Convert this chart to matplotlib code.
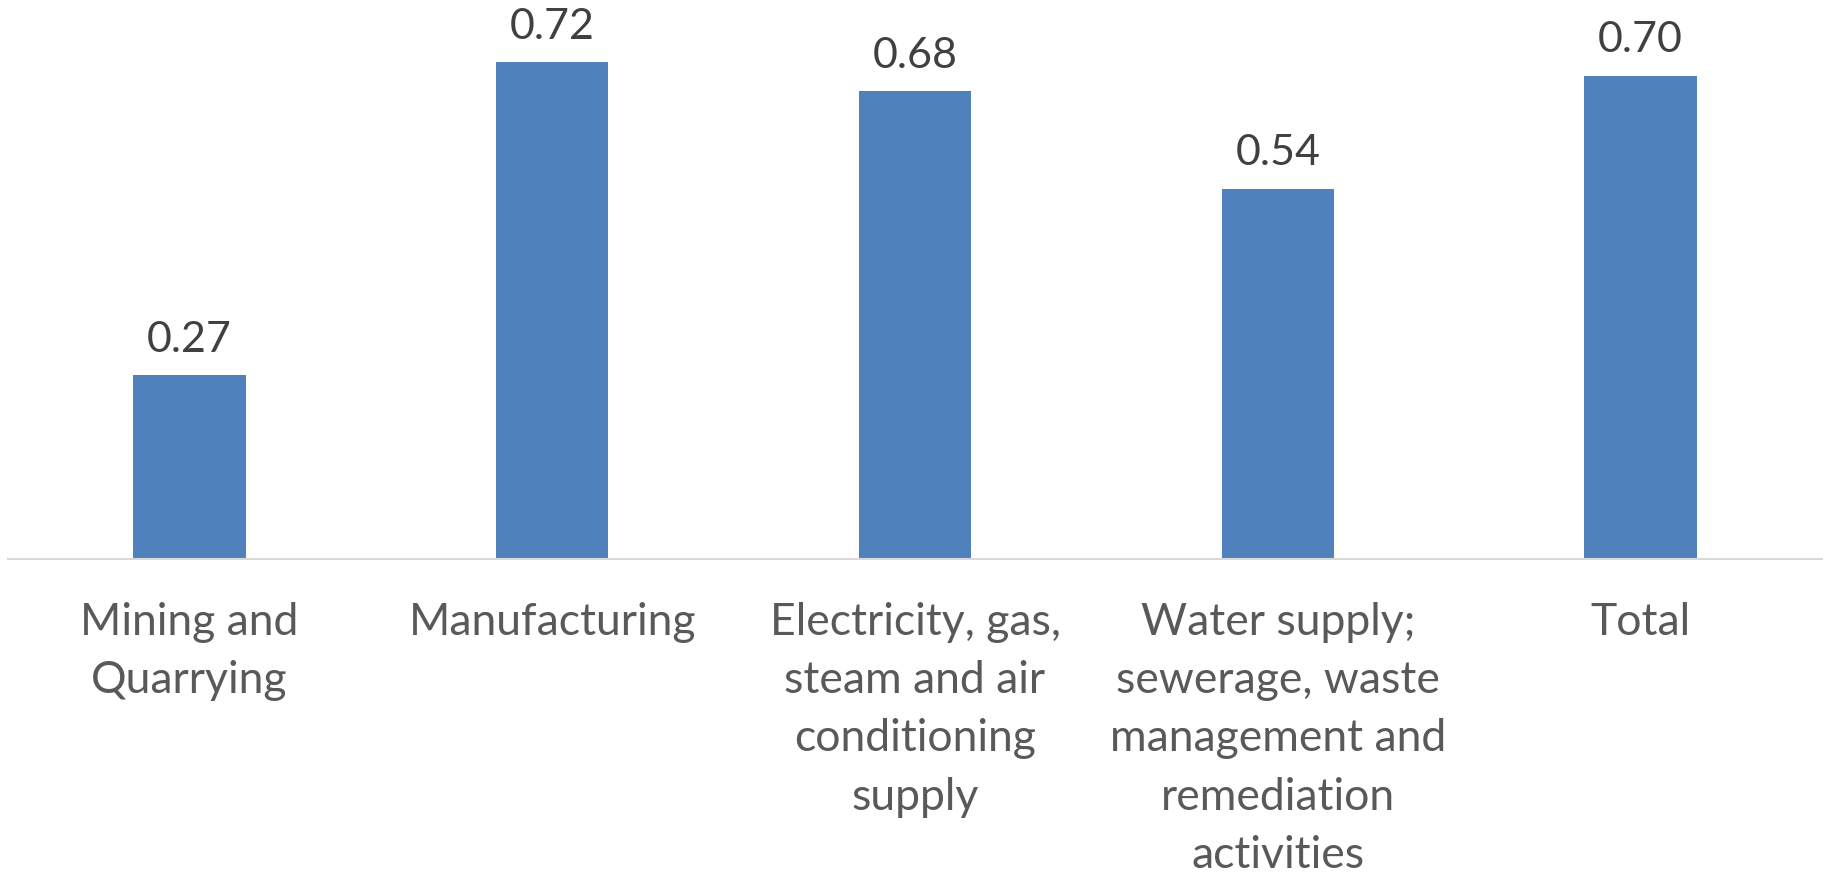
import matplotlib
matplotlib.use("Agg")
import matplotlib.pyplot as plt

categories = ["Mining and\nQuarrying", "Manufacturing",
              "Electricity, gas,\nsteam and air\nconditioning\nsupply",
              "Water supply;\nsewerage, waste\nmanagement and\nremediation\nactivities",
              "Total"]
values = [0.266, 0.72, 0.678, 0.536, 0.70]
labels = ["0.27", "0.72", "0.68", "0.54", "0.70"]

plt.rcParams['font.family'] = ['Lato', 'DejaVu Sans']

fig = plt.figure(figsize=(18.29, 8.76), dpi=100)
ax = fig.add_axes([8/1829, (876-559)/876, 1814/1829, 552/876])

x = range(len(categories))
bars = ax.bar(x, values, width=0.31, color="#4F81BD", zorder=2)
ax.set_xlim(-0.5, 4.5)
ax.set_ylim(0, 0.8)

for b, lab in zip(bars, labels):
    ax.annotate(lab, (b.get_x() + b.get_width()/2, b.get_height()),
                xytext=(0, 12), textcoords="offset points",
                ha="center", va="bottom", fontsize=31, color="#404040")

ax.set_xticks(list(x))
ax.set_xticklabels(categories, fontsize=32, color="#595959", linespacing=1.52)
ax.tick_params(axis="x", length=0, pad=31)
ax.set_yticks([])
for s in ["top", "right", "left"]:
    ax.spines[s].set_visible(False)
ax.spines["bottom"].set_color("#D9D9D9")
ax.spines["bottom"].set_linewidth(1.5)

fig.savefig("out.png", dpi=100)
